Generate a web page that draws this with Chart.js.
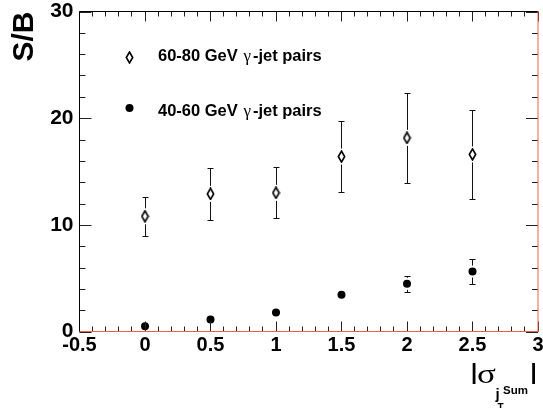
<!DOCTYPE html>
<html>
<head>
<meta charset="utf-8">
<script src="https://cdn.jsdelivr.net/npm/chart.js@4.4.1/dist/chart.umd.min.js"></script>
<style>
  html, body { margin: 0; padding: 0; background: #fff; overflow: hidden; }
  canvas { display: block; }
</style>
</head>
<body>
<canvas id="c" width="543" height="408"></canvas>
<script>
// Bin centres in |sigma| of the summed jet pT
const xVals = [0, 0.5, 1, 1.5, 2, 2.5];

// Signal-to-background ratio, 60-80 GeV gamma-jet pairs (value and symmetric error)
const sb6080 = [10.8, 12.9, 13.0, 16.4, 18.15, 16.6];
const err6080 = [1.8, 2.4, 2.4, 3.3, 4.2, 4.2];

// Signal-to-background ratio, 40-60 GeV gamma-jet pairs
const sb4060 = [0.5, 1.12, 1.78, 3.44, 4.47, 5.62];
const err4060 = [0.05, 0.1, 0.15, 0.25, 0.72, 1.14];

// Axis tick labels
const xTickLabels = ['-0.5', '0', '0.5', '1', '1.5', '2', '2.5', '3'];
const yTickLabels = ['0', '10', '20', '30'];

const legendLabels = ['60-80 GeV ', '40-60 GeV '];

const SANS = '"Liberation Sans", Arial, Helvetica, sans-serif';
const SERIF = '"Liberation Serif", "DejaVu Serif", serif';
const RED = '#e8624c';

// Open diamond marker (taller than wide)
function diamondMarker() {
  const c = document.createElement('canvas');
  c.width = 9; c.height = 13;
  const g = c.getContext('2d');
  g.beginPath();
  g.moveTo(4.5, 1);
  g.lineTo(7.7, 6.5);
  g.lineTo(4.5, 12);
  g.lineTo(1.3, 6.5);
  g.closePath();
  g.fillStyle = '#fff';
  g.fill();
  g.lineWidth = 1.6;
  g.strokeStyle = '#000';
  g.stroke();
  return c;
}
const diamond = diamondMarker();

function pts(ys, errs) {
  return xVals.map((x, i) => ({ x: x, y: ys[i], err: errs[i] }));
}

// Frame, inward ticks on all four sides, error bars, legend and x-axis title
const decorations = {
  id: 'decorations',
  beforeDatasetsDraw(chart) {
    const ctx = chart.ctx;
    const xs = chart.scales.x, ys = chart.scales.y;
    ctx.save();
    ctx.strokeStyle = '#111';
    ctx.lineWidth = 1;
    chart.data.datasets.forEach(ds => {
      const gap = ds.errGap;
      ds.data.forEach(p => {
        const px = Math.floor(xs.getPixelForValue(p.x)) + 0.5;
        const pc = ys.getPixelForValue(p.y);
        const ph = Math.round(ys.getPixelForValue(p.y + p.err)) + 0.5;
        const pl = Math.round(ys.getPixelForValue(p.y - p.err)) + 0.5;
        if (pc - ph > gap) {
          ctx.beginPath();
          ctx.moveTo(px, pc - gap); ctx.lineTo(px, ph);
          ctx.moveTo(px - 3, ph); ctx.lineTo(px + 3, ph);
          ctx.stroke();
        }
        if (pl - pc > gap) {
          ctx.beginPath();
          ctx.moveTo(px, pc + gap); ctx.lineTo(px, pl);
          ctx.moveTo(px - 3, pl); ctx.lineTo(px + 3, pl);
          ctx.stroke();
        }
      });
    });
    ctx.restore();
  },
  afterDraw(chart) {
    const ctx = chart.ctx;
    const a = chart.chartArea;
    const xs = chart.scales.x, ys = chart.scales.y;
    ctx.save();
    ctx.lineWidth = 1;

    // x ticks, bottom and top
    ctx.strokeStyle = '#222';
    const nx = Math.round((xs.max - xs.min) / 0.1);
    for (let k = 0; k <= nx; k++) {
      const v = xs.min + k * 0.1;
      const px = Math.floor(xs.getPixelForValue(v)) + 0.5;
      const len = (k % 5 === 0) ? 10 : 5;
      ctx.beginPath();
      ctx.moveTo(px, a.bottom); ctx.lineTo(px, a.bottom - len);
      ctx.moveTo(px, a.top); ctx.lineTo(px, a.top + len);
      ctx.stroke();
    }
    // y ticks, left and right
    const ny = Math.round((ys.max - ys.min) / 2);
    for (let k = 0; k <= ny; k++) {
      const v = ys.min + k * 2;
      const py = Math.round(ys.getPixelForValue(v)) + 0.5;
      const len = (k % 5 === 0) ? 12 : 6;
      ctx.beginPath();
      ctx.moveTo(a.left, py); ctx.lineTo(a.left + len, py);
      ctx.moveTo(a.right, py); ctx.lineTo(a.right - len, py);
      ctx.stroke();
    }
    // frame: black left/top, red bottom/right
    ctx.strokeStyle = '#000';
    ctx.beginPath();
    ctx.moveTo(a.left, a.bottom); ctx.lineTo(a.left, a.top); ctx.lineTo(a.right, a.top);
    ctx.stroke();
    ctx.strokeStyle = RED;
    ctx.beginPath();
    ctx.moveTo(a.left + 0.5, a.bottom); ctx.lineTo(a.right, a.bottom); ctx.lineTo(a.right, a.top);
    ctx.stroke();

    // legend
    ctx.fillStyle = '#000';
    ctx.textBaseline = 'alphabetic';
    const rows = [{ my: 57, base: 61 }, { my: 108, base: 116 }];
    rows.forEach((r, i) => {
      if (i === 0) {
        ctx.drawImage(diamond, 125, r.my - 6);
      } else {
        ctx.beginPath();
        ctx.arc(129.5, r.my, 4, 0, Math.PI * 2);
        ctx.fill();
      }
      let x = 158;
      ctx.font = 'bold 16.5px ' + SANS;
      ctx.fillText(legendLabels[i], x, r.base);
      x += ctx.measureText(legendLabels[i]).width + 1;
      ctx.font = '17px ' + SERIF;
      ctx.fillText('\u03b3', x, r.base);
      x += ctx.measureText('\u03b3').width + 2;
      ctx.font = 'bold 16.5px ' + SANS;
      ctx.fillText('-jet pairs', x, r.base);
    });

    // x-axis title |sigma_{j_T^Sum}|
    ctx.font = 'bold 22px ' + SANS;
    ctx.fillText('|', 471, 378.5);
    ctx.save();
    ctx.translate(477, 383);
    ctx.scale(1.25, 1);
    ctx.font = '28px ' + SERIF;
    ctx.fillText('\u03c3', 0, 0);
    ctx.restore();
    ctx.font = 'bold 15px ' + SANS;
    ctx.fillText('j', 495.5, 399);
    ctx.font = 'bold 11.5px ' + SANS;
    ctx.fillText('Sum', 503, 393.5);
    ctx.font = 'bold 10px ' + SANS;
    ctx.fillText('T', 497.5, 410.5);
    ctx.font = 'bold 22px ' + SANS;
    ctx.fillText('|', 530.5, 378.5);
    ctx.restore();
  }
};

new Chart(document.getElementById('c'), {
  type: 'scatter',
  data: {
    datasets: [
      {
        label: '60-80 GeV',
        data: pts(sb6080, err6080),
        pointStyle: diamond,
        errGap: 8,
        borderColor: '#000',
        backgroundColor: '#fff'
      },
      {
        label: '40-60 GeV',
        data: pts(sb4060, err4060),
        pointStyle: 'circle',
        pointRadius: 4,
        borderWidth: 0,
        errGap: 6,
        borderColor: '#000',
        backgroundColor: '#000'
      }
    ]
  },
  options: {
    responsive: false,
    devicePixelRatio: 1,
    animation: false,
    events: [],
    layout: { padding: { top: 11.5, right: 1.5, left: 0, bottom: 0 } },
    plugins: { legend: { display: false }, tooltip: { enabled: false } },
    scales: {
      x: {
        type: 'linear',
        min: -0.5,
        max: 3,
        afterBuildTicks(scale) {
          scale.ticks = xTickLabels.map(t => ({ value: parseFloat(t) }));
        },
        afterFit(scale) {
          scale.height = 76.5;
          scale.paddingLeft = 0;
          scale.paddingRight = 0;
        },
        grid: { display: false, drawTicks: false },
        border: { display: false },
        ticks: {
          autoSkip: false,
          maxRotation: 0,
          padding: 2,
          color: '#000',
          font: { family: SANS, size: 20, weight: 'bold' },
          callback: (v, i) => xTickLabels[i]
        }
      },
      y: {
        min: 0,
        max: 30,
        afterBuildTicks(scale) {
          scale.ticks = yTickLabels.map(t => ({ value: parseFloat(t) }));
        },
        afterFit(scale) {
          scale.width = 79.5;
          scale.paddingTop = 0;
          scale.paddingBottom = 0;
        },
        grid: { display: false, drawTicks: false },
        border: { display: false },
        ticks: {
          padding: 6,
          color: '#000',
          font: { family: SANS, size: 21, weight: 'bold' },
          callback: (v, i) => yTickLabels[i]
        },
        title: {
          display: true,
          text: 'S/B',
          align: 'end',
          color: '#000',
          padding: { top: 7, bottom: 0 },
          font: { family: SANS, size: 30, weight: 'bold' }
        }
      }
    }
  },
  plugins: [decorations]
});
</script>
</body>
</html>
